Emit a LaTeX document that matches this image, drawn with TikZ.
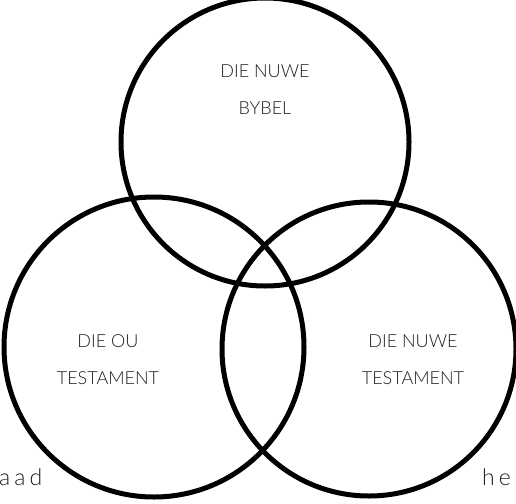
\documentclass[tikz,border=0pt]{standalone}
\usepackage{fontspec}
\setmainfont{Lato}[UprightFont=* Light]
\definecolor{labelgray}{RGB}{30,30,30}

\begin{document}
\begin{tikzpicture}[
  x=1pt, y=-1pt,
  ring/.style={draw=black, line width=5pt},
  label/.style={align=center, font=\fontsize{18}{37}\selectfont, text=labelgray},
  edge/.style={font=\fontsize{23}{24}\selectfont\addfontfeatures{LetterSpace=18}, text=labelgray}
]
  \useasboundingbox (0,0) rectangle (516,503);
  % the three circles
  \draw[ring] (265,142) circle (144);
  \draw[ring] (154,347) circle (150);
  \draw[ring] (369,349) circle (147);
  % labels in the circles
  \node[label] (bybel) at (265,90) {DIE NUWE\\BYBEL};
  \node[label] (ou) at (108,360) {DIE OU\\TESTAMENT};
  \node[label] (nuwe) at (413,360) {DIE NUWE\\TESTAMENT};
  % cut-off words at the edges
  \node[edge, anchor=west, inner sep=0pt] (left) at (-1,477) {aad};
  \node[edge, anchor=west, inner sep=0pt] (right) at (482,477) {he};
\end{tikzpicture}
\end{document}
